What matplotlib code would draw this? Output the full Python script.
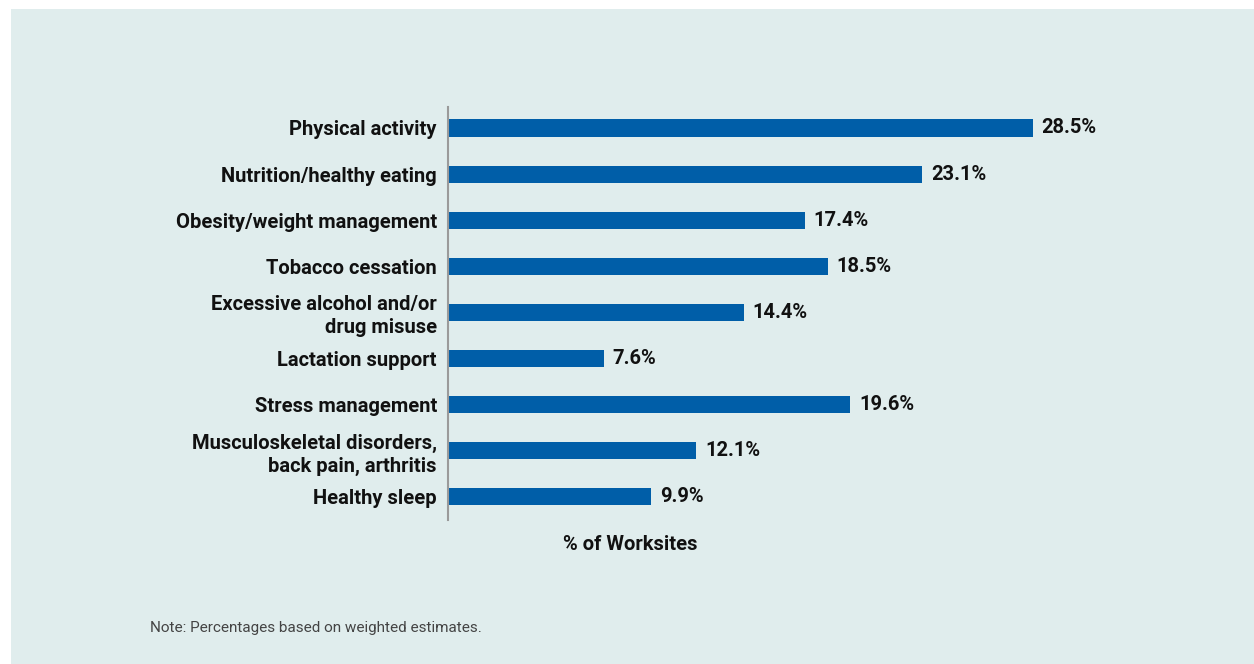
import matplotlib.pyplot as plt
from matplotlib.patches import Rectangle

# Worksite health programs offered
topics = [
    "Physical activity",
    "Nutrition/healthy eating",
    "Obesity/weight management",
    "Tobacco cessation",
    "Excessive alcohol and/or\ndrug misuse",
    "Lactation support",
    "Stress management",
    "Musculoskeletal disorders,\nback pain, arthritis",
    "Healthy sleep",
]
pct = [28.5, 23.1, 17.4, 18.5, 14.4, 7.6, 19.6, 12.1, 9.9]

W, H = 1254, 664
bg = "#e0eded"
bar_color = "#005ea8"
font = ["Roboto", "DejaVu Sans"]

fig = plt.figure(figsize=(W / 100, H / 100), dpi=100, facecolor="white")
fig.patches.append(Rectangle((11 / W, 0), 1, (H - 9) / H, transform=fig.transFigure,
                             facecolor=bg, edgecolor="none", zorder=-10))

# axes placed in pixel terms
left, right, top, bottom = 448, 1148, 107, 520
ax = fig.add_axes([left / W, (H - bottom) / H, (right - left) / W, (bottom - top) / H])
ax.patch.set_visible(False)
ax.set_zorder(5)

y = range(len(topics))
ax.barh(y, pct, height=0.37, color=bar_color, zorder=2)
ax.set_xlim(0, (right - left) / 20.53)
ax.set_ylim(len(topics) - 0.5, -0.455)

for i, v in enumerate(pct):
    ax.text(v + 0.42, i, f"{v}%", va="center", ha="left", fontsize=14.5,
            fontweight="bold", family=font, color="#111111")

ax.set_yticks(list(y))
ax.set_yticklabels(topics, fontsize=14.5, fontweight="bold", family=font,
                   color="#111111", linespacing=1.25)
ax.tick_params(axis="y", length=0, pad=8)
ax.set_xticks([])

for s in ["top", "right", "bottom"]:
    ax.spines[s].set_visible(False)
ax.spines["left"].set_color("#9a9a9a")
ax.spines["left"].set_linewidth(1.5)

fig.text(630 / W, 1 - 544 / H, "% of Worksites", ha="center", va="center",
         fontsize=14.5, fontweight="bold", family=font, color="#111111")
fig.text(150 / W, 1 - 628 / H, "Note: Percentages based on weighted estimates.",
         ha="left", va="center", fontsize=11, family=font, color="#444444")

fig.savefig("out.png", dpi=100, facecolor=fig.get_facecolor())
